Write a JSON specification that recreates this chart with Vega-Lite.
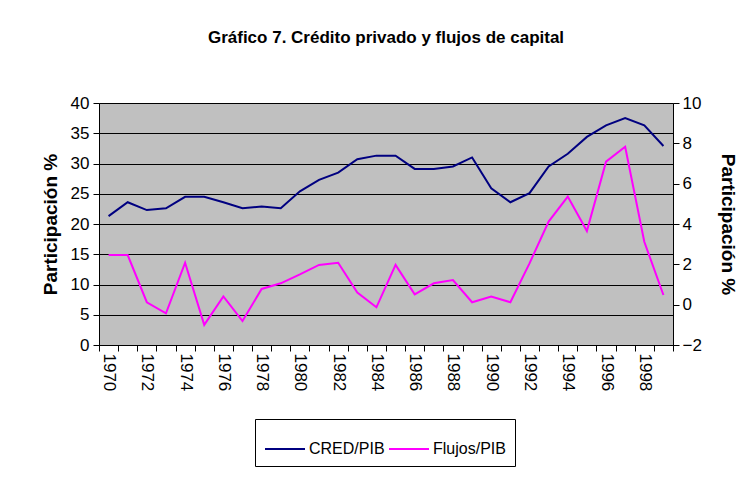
{
  "$schema": "https://vega.github.io/schema/vega-lite/v6.json",
  "autosize": "none",
  "width": 574,
  "height": 242,
  "padding": {"left": 99, "top": 103, "right": 71, "bottom": 134},
  "background": "white",
  "title": {
    "text": "Gráfico 7. Crédito privado y flujos de capital",
    "font": "Liberation Sans",
    "fontSize": 17,
    "fontWeight": "bold",
    "color": "black",
    "offset": 47,
    "anchor": "middle"
  },
  "config": {
    "view": {"fill": "#C0C0C0", "stroke": "#808080", "strokeWidth": 1},
    "axis": {
      "labelFont": "Liberation Sans",
      "labelFontSize": 17,
      "labelColor": "black",
      "titleFont": "Liberation Sans",
      "titleFontSize": 19,
      "titleFontWeight": "bold",
      "titleColor": "black",
      "domainColor": "black",
      "tickColor": "black",
      "tickSize": 6
    }
  },
  "data": {
    "values": [
      {"year": 1970, "cred": 21.3, "flujos": 2.46},
      {"year": 1971, "cred": 23.6, "flujos": 2.46},
      {"year": 1972, "cred": 22.3, "flujos": 0.12},
      {"year": 1973, "cred": 22.6, "flujos": -0.43},
      {"year": 1974, "cred": 24.5, "flujos": 2.08},
      {"year": 1975, "cred": 24.5, "flujos": -1.0},
      {"year": 1976, "cred": 23.6, "flujos": 0.41},
      {"year": 1977, "cred": 22.6, "flujos": -0.81},
      {"year": 1978, "cred": 22.9, "flujos": 0.78},
      {"year": 1979, "cred": 22.6, "flujos": 1.06},
      {"year": 1980, "cred": 25.4, "flujos": 1.5},
      {"year": 1981, "cred": 27.3, "flujos": 1.97},
      {"year": 1982, "cred": 28.5, "flujos": 2.08},
      {"year": 1983, "cred": 30.7, "flujos": 0.6},
      {"year": 1984, "cred": 31.3, "flujos": -0.13},
      {"year": 1985, "cred": 31.3, "flujos": 1.97},
      {"year": 1986, "cred": 29.1, "flujos": 0.51},
      {"year": 1987, "cred": 29.1, "flujos": 1.06},
      {"year": 1988, "cred": 29.5, "flujos": 1.22},
      {"year": 1989, "cred": 31.0, "flujos": 0.12},
      {"year": 1990, "cred": 25.9, "flujos": 0.4},
      {"year": 1991, "cred": 23.6, "flujos": 0.12},
      {"year": 1992, "cred": 25.1, "flujos": 2.05},
      {"year": 1993, "cred": 29.5, "flujos": 4.12},
      {"year": 1994, "cred": 31.6, "flujos": 5.36},
      {"year": 1995, "cred": 34.4, "flujos": 3.65},
      {"year": 1996, "cred": 36.3, "flujos": 7.09},
      {"year": 1997, "cred": 37.5, "flujos": 7.83},
      {"year": 1998, "cred": 36.3, "flujos": 3.12},
      {"year": 1999, "cred": 32.9, "flujos": 0.48}
    ]
  },
  "layer": [
    {
      "mark": {"type": "line", "strokeWidth": 2},
      "encoding": {
        "x": {
          "field": "year",
          "type": "quantitative",
          "scale": {"domain": [1969.5, 1999.5], "nice": false, "zero": false},
          "axis": {
            "title": null,
            "orient": "bottom",
            "labels": false,
            "grid": false,
            "values": [1969.5, 1970.5, 1971.5, 1972.5, 1973.5, 1974.5, 1975.5, 1976.5, 1977.5, 1978.5, 1979.5, 1980.5, 1981.5, 1982.5, 1983.5, 1984.5, 1985.5, 1986.5, 1987.5, 1988.5, 1989.5, 1990.5, 1991.5, 1992.5, 1993.5, 1994.5, 1995.5, 1996.5, 1997.5, 1998.5, 1999.5]
          }
        },
        "y": {
          "field": "cred",
          "type": "quantitative",
          "scale": {"domain": [0, 40], "nice": false},
          "axis": {
            "title": "Participación %",
            "orient": "left",
            "values": [0, 5, 10, 15, 20, 25, 30, 35, 40],
            "grid": true,
            "gridColor": "black",
            "gridWidth": 1,
            "gridOpacity": 1,
            "labelPadding": 4,
            "titlePadding": 10
          }
        },
        "color": {
          "datum": "CRED/PIB",
          "scale": {"domain": ["CRED/PIB", "Flujos/PIB"], "range": ["#000080", "#FF00FF"]},
          "legend": {
            "title": null,
            "orient": "none",
            "legendX": 156,
            "legendY": 316,
            "direction": "horizontal",
            "symbolType": "stroke",
            "symbolSize": 1600,
            "symbolStrokeWidth": 2,
            "labelFont": "Liberation Sans",
            "labelFontSize": 16,
            "labelColor": "black",
            "labelOffset": 3,
            "columnPadding": 0,
            "padding": 9,
            "strokeColor": "black",
            "fillColor": "white"
          }
        }
      }
    },
    {
      "mark": {"type": "line", "strokeWidth": 2},
      "encoding": {
        "x": {
          "field": "year",
          "type": "quantitative",
          "axis": {
            "title": null,
            "orient": "bottom",
            "grid": false,
            "ticks": false,
            "domain": false,
            "labelAngle": 90,
            "labelAlign": "left",
            "labelBaseline": "middle",
            "labelPadding": 8,
            "format": "d",
            "values": [1970, 1972, 1974, 1976, 1978, 1980, 1982, 1984, 1986, 1988, 1990, 1992, 1994, 1996, 1998]
          }
        },
        "y": {
          "field": "flujos",
          "type": "quantitative",
          "scale": {"domain": [-2, 10], "nice": false},
          "axis": {
            "title": "Participación %",
            "orient": "right",
            "values": [-2, 0, 2, 4, 6, 8, 10],
            "grid": false,
            "labelPadding": 3,
            "titlePadding": 16
          }
        },
        "color": {"datum": "Flujos/PIB"}
      }
    }
  ],
  "resolve": {"scale": {"y": "independent"}, "axis": {"x": "independent"}}
}
